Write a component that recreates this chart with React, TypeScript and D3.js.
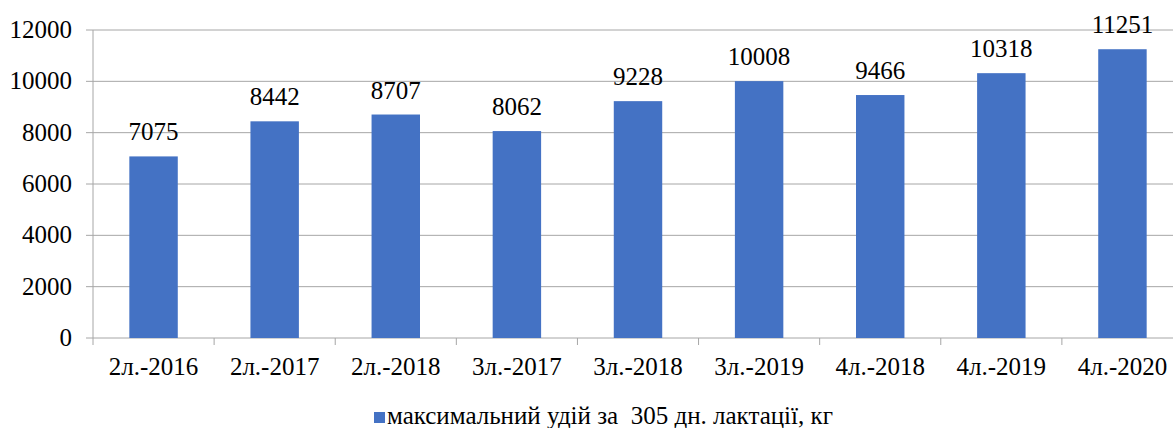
import * as d3 from "d3";

const categories = [
  "2л.-2016",
  "2л.-2017",
  "2л.-2018",
  "3л.-2017",
  "3л.-2018",
  "3л.-2019",
  "4л.-2018",
  "4л.-2019",
  "4л.-2020",
];
const yields = [7075, 8442, 8707, 8062, 9228, 10008, 9466, 10318, 11251];
const yTicks = [0, 2000, 4000, 6000, 8000, 10000, 12000];
const legendLabel = "максимальний удій за\u00a0 305 дн. лактації, кг";

const W = 1173;
const H = 428;
const left = 93;
const right = 1183;
const top = 30;
const bottom = 338;
const grid = "#a6a6a6";
const barColor = "#4472C4";

export default function App() {
  const x = d3.scaleBand<string>().domain(categories).range([left, right]).paddingInner(0.6).paddingOuter(0.3);
  const band = d3.scaleBand<string>().domain(categories).range([left, right]);
  const y = d3.scaleLinear().domain([0, 12000]).range([bottom, top]);

  return (
    <svg
      width={W}
      height={H}
      style={{ position: "absolute", left: 0, top: 0, background: "#fff" }}
    >
      <style>{"text.lbl { font-family: 'Liberation Serif', serif; font-size: 25px; fill: #000; white-space: pre; }"}</style>
      {yTicks.map((t) => (
        <g key={t}>
          <line x1={left - 7} x2={W} y1={y(t)} y2={y(t)} stroke={grid} strokeWidth={1} />
          <text className="lbl" x={72} y={y(t) + 8} textAnchor="end">
            {t}
          </text>
        </g>
      ))}
      <line x1={left} x2={left} y1={top} y2={bottom} stroke={grid} strokeWidth={1} />
      {categories.map((c) => (
        <line
          key={"t" + c}
          x1={band(c)!}
          x2={band(c)!}
          y1={bottom}
          y2={bottom + 7}
          stroke={grid}
        />
      ))}
      {categories.map((c, i) => (
        <g key={c}>
          <rect
            x={x(c)!}
            y={y(yields[i])}
            width={x.bandwidth()}
            height={bottom - y(yields[i])}
            fill={barColor}
          />
          <text
            className="lbl"
            x={x(c)! + x.bandwidth() / 2}
            y={y(yields[i]) - 16}
            textAnchor="middle"
          >
            {yields[i]}
          </text>
          <text
            className="lbl"
            x={band(c)! + band.bandwidth() / 2}
            y={375}
            textAnchor="middle"
          >
            {c}
          </text>
        </g>
      ))}
      <rect x={374} y={412} width={11} height={11} fill={barColor} />
      <text className="lbl" x={387} y={424}>
        {legendLabel}
      </text>
    </svg>
  );
}
